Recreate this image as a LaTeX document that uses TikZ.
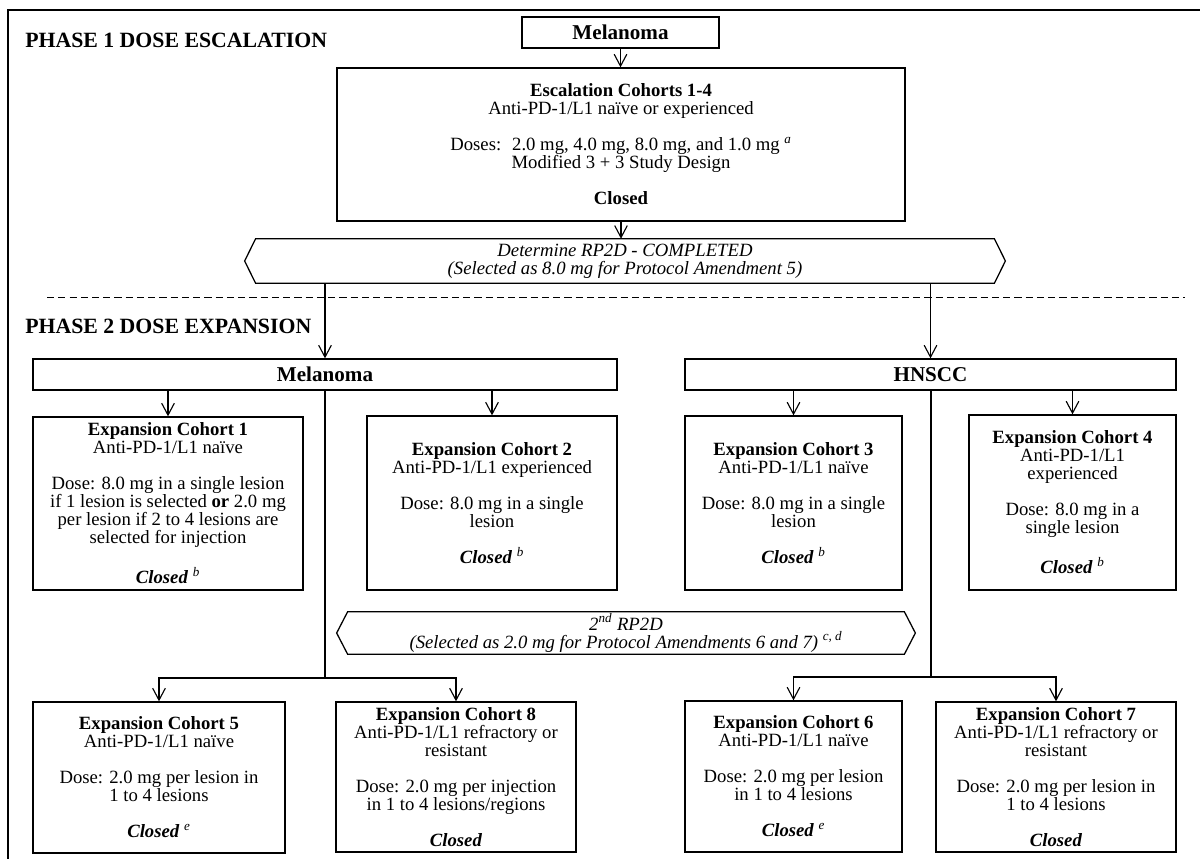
\documentclass[tikz,border=0pt]{standalone}
\usepackage{fontspec}
\setmainfont{Liberation Serif}
\usetikzlibrary{arrows.meta,calc}

\newcommand\gap{\\[12.8pt]}
\newcommand\supit[1]{\textsuperscript{\itshape #1}}
\newcommand\closedtxt{\textbf{\textit{Closed}}}

\begin{document}
\begin{tikzpicture}[x=0.025cm,y=-0.025cm,
  txt/.style={font=\fontsize{13.3}{12.8}\selectfont, align=center, inner sep=0pt},
  box/.style={txt, draw, line width=0.9pt},
  headbox/.style={box, font=\fontsize{15}{18}\selectfont\bfseries},
  hexbox/.style={txt, font=\fontsize{13.3}{12.8}\selectfont\itshape},
  phase/.style={anchor=base west, inner sep=0pt, font=\fontsize{15.5}{18}\selectfont\bfseries},
  arr/.style={-{Straight Barb[length=8.5pt,width=9pt]}, line width=0.8pt},
  trunk/.style={line width=1.4pt}]
  \useasboundingbox (0,0) rectangle (1200,859);
  %% Frame
  \draw[line width=0.9pt] (8,859) -- (8,10) -- (1200,10);

  %% Phase 1
  \node[phase] (p1) at (25,48) {PHASE 1 DOSE ESCALATION};
  \node[headbox, minimum width=4.925cm, minimum height=0.775cm] (mtop) at (620.5,32.5) {Melanoma};
  \node[box, minimum width=14.2cm, minimum height=3.825cm] (esc) at (621,144.5)
    {\textbf{Escalation Cohorts 1-4}\\ Anti-PD-1/L1 naïve or experienced\gap
     Doses:~ 2.0 mg, 4.0 mg, 8.0 mg, and 1.0 mg \supit{a}\\ Modified 3 + 3 Study Design\gap
     \textbf{Closed}};
  \node[hexbox, minimum width=18.45cm, minimum height=1.1cm] (rp1) at (625,261)
    {Determine RP2D - COMPLETED\\ (Selected as 8.0 mg for Protocol Amendment 5)};
  \draw[line width=0.9pt] (rp1.north west) -- (rp1.north east) -- ($(rp1.east)+(11,0)$)
    -- (rp1.south east) -- (rp1.south west) -- ($(rp1.west)+(-11,0)$) -- cycle;

  %% Separator
  \coordinate (dl) at (47,297);
  \coordinate (dr) at (1185,297);
  \draw[dashed, dash pattern=on 5pt off 3pt, line width=0.7pt] (dl) -- (dr);

  %% Phase 2
  \node[phase] (p2) at (25,333) {PHASE 2 DOSE EXPANSION};
  \node[headbox, minimum width=14.6cm, minimum height=0.775cm] (mel) at (325,374.5) {Melanoma};
  \node[headbox, minimum width=12.275cm, minimum height=0.775cm] (hn) at (930.5,374.5) {HNSCC};

  \node[box, minimum width=6.75cm, minimum height=4.325cm] (c1) at (168,503.5)
    {\textbf{Expansion Cohort 1}\\ Anti-PD-1/L1 naïve\gap
     Dose: 8.0 mg in a single lesion\\ if 1 lesion is selected \textbf{or} 2.0 mg\\
     per lesion if 2 to 4 lesions are\\ selected for injection\gap \closedtxt\ \supit{b}};
  \node[box, minimum width=6.25cm, minimum height=4.35cm] (c2) at (492,503)
    {\textbf{Expansion Cohort 2}\\ Anti-PD-1/L1 experienced\gap
     Dose: 8.0 mg in a single\\ lesion\gap \closedtxt\ \supit{b}};
  \node[box, minimum width=5.425cm, minimum height=4.35cm] (c3) at (793.5,503)
    {\textbf{Expansion Cohort 3}\\ Anti-PD-1/L1 naïve\gap
     Dose: 8.0 mg in a single\\ lesion\gap \closedtxt\ \supit{b}};
  \node[box, minimum width=5.175cm, minimum height=4.375cm] (c4) at (1072.5,502.5)
    {\textbf{Expansion Cohort 4}\\ Anti-PD-1/L1\\ experienced\gap
     Dose: 8.0 mg in a\\ single lesion\gap \closedtxt\ \supit{b}};

  \node[hexbox, minimum width=13.9cm, minimum height=1.05cm] (rp2) at (626,633)
    {2\supit{nd} RP2D\\ (Selected as 2.0 mg for Protocol Amendments 6 and 7) \supit{c, d}};
  \draw[line width=0.9pt] (rp2.north west) -- (rp2.north east) -- ($(rp2.east)+(11,0)$)
    -- (rp2.south east) -- (rp2.south west) -- ($(rp2.west)+(-11,0)$) -- cycle;

  \node[box, minimum width=6.3cm, minimum height=3.775cm] (c5) at (159,777.5)
    {\textbf{Expansion Cohort 5}\\ Anti-PD-1/L1 naïve\gap
     Dose: 2.0 mg per lesion in\\ 1 to 4 lesions\gap \closedtxt\ \supit{e}};
  \node[box, minimum width=6.0cm, minimum height=3.75cm] (c8) at (456,777)
    {\textbf{Expansion Cohort 8}\\ Anti-PD-1/L1 refractory or\\ resistant\gap
     Dose: 2.0 mg per injection\\ in 1 to 4 lesions/regions\gap \closedtxt};
  \node[box, minimum width=5.425cm, minimum height=3.775cm] (c6) at (793.5,776.5)
    {\textbf{Expansion Cohort 6}\\ Anti-PD-1/L1 naïve\gap
     Dose: 2.0 mg per lesion\\ in 1 to 4 lesions\gap \closedtxt\ \supit{e}};
  \node[box, minimum width=6.0cm, minimum height=3.75cm] (c7) at (1056,777)
    {\textbf{Expansion Cohort 7}\\ Anti-PD-1/L1 refractory or\\ resistant\gap
     Dose: 2.0 mg per lesion in\\ 1 to 4 lesions\gap \closedtxt};

  %% Connectors
  \draw[arr] (mtop.south) -- (mtop.south |- esc.north);
  \draw[arr] (esc.south) -- (esc.south |- rp1.north);
  \draw[arr] (rp1.south -| mel.north) -- (mel.north);
  \draw[arr] (rp1.south -| hn.north) -- (hn.north);
  \foreach \c in {c1,c2}
    \draw[arr] (mel.south -| \c.north) -- (\c.north);
  \foreach \c in {c3,c4}
    \draw[arr] (hn.south -| \c.north) -- (\c.north);

  \coordinate (mj) at (325,678);
  \coordinate (hj) at (930.5,677);
  \draw[trunk] (mel.south) -- (mj);
  \draw[trunk] (hn.south) -- (hj);
  \foreach \c in {c5,c8}
    \draw[arr] (mj) -| (\c.north);
  \foreach \c in {c6,c7}
    \draw[arr] (hj) -| (\c.north);
\end{tikzpicture}
\end{document}
